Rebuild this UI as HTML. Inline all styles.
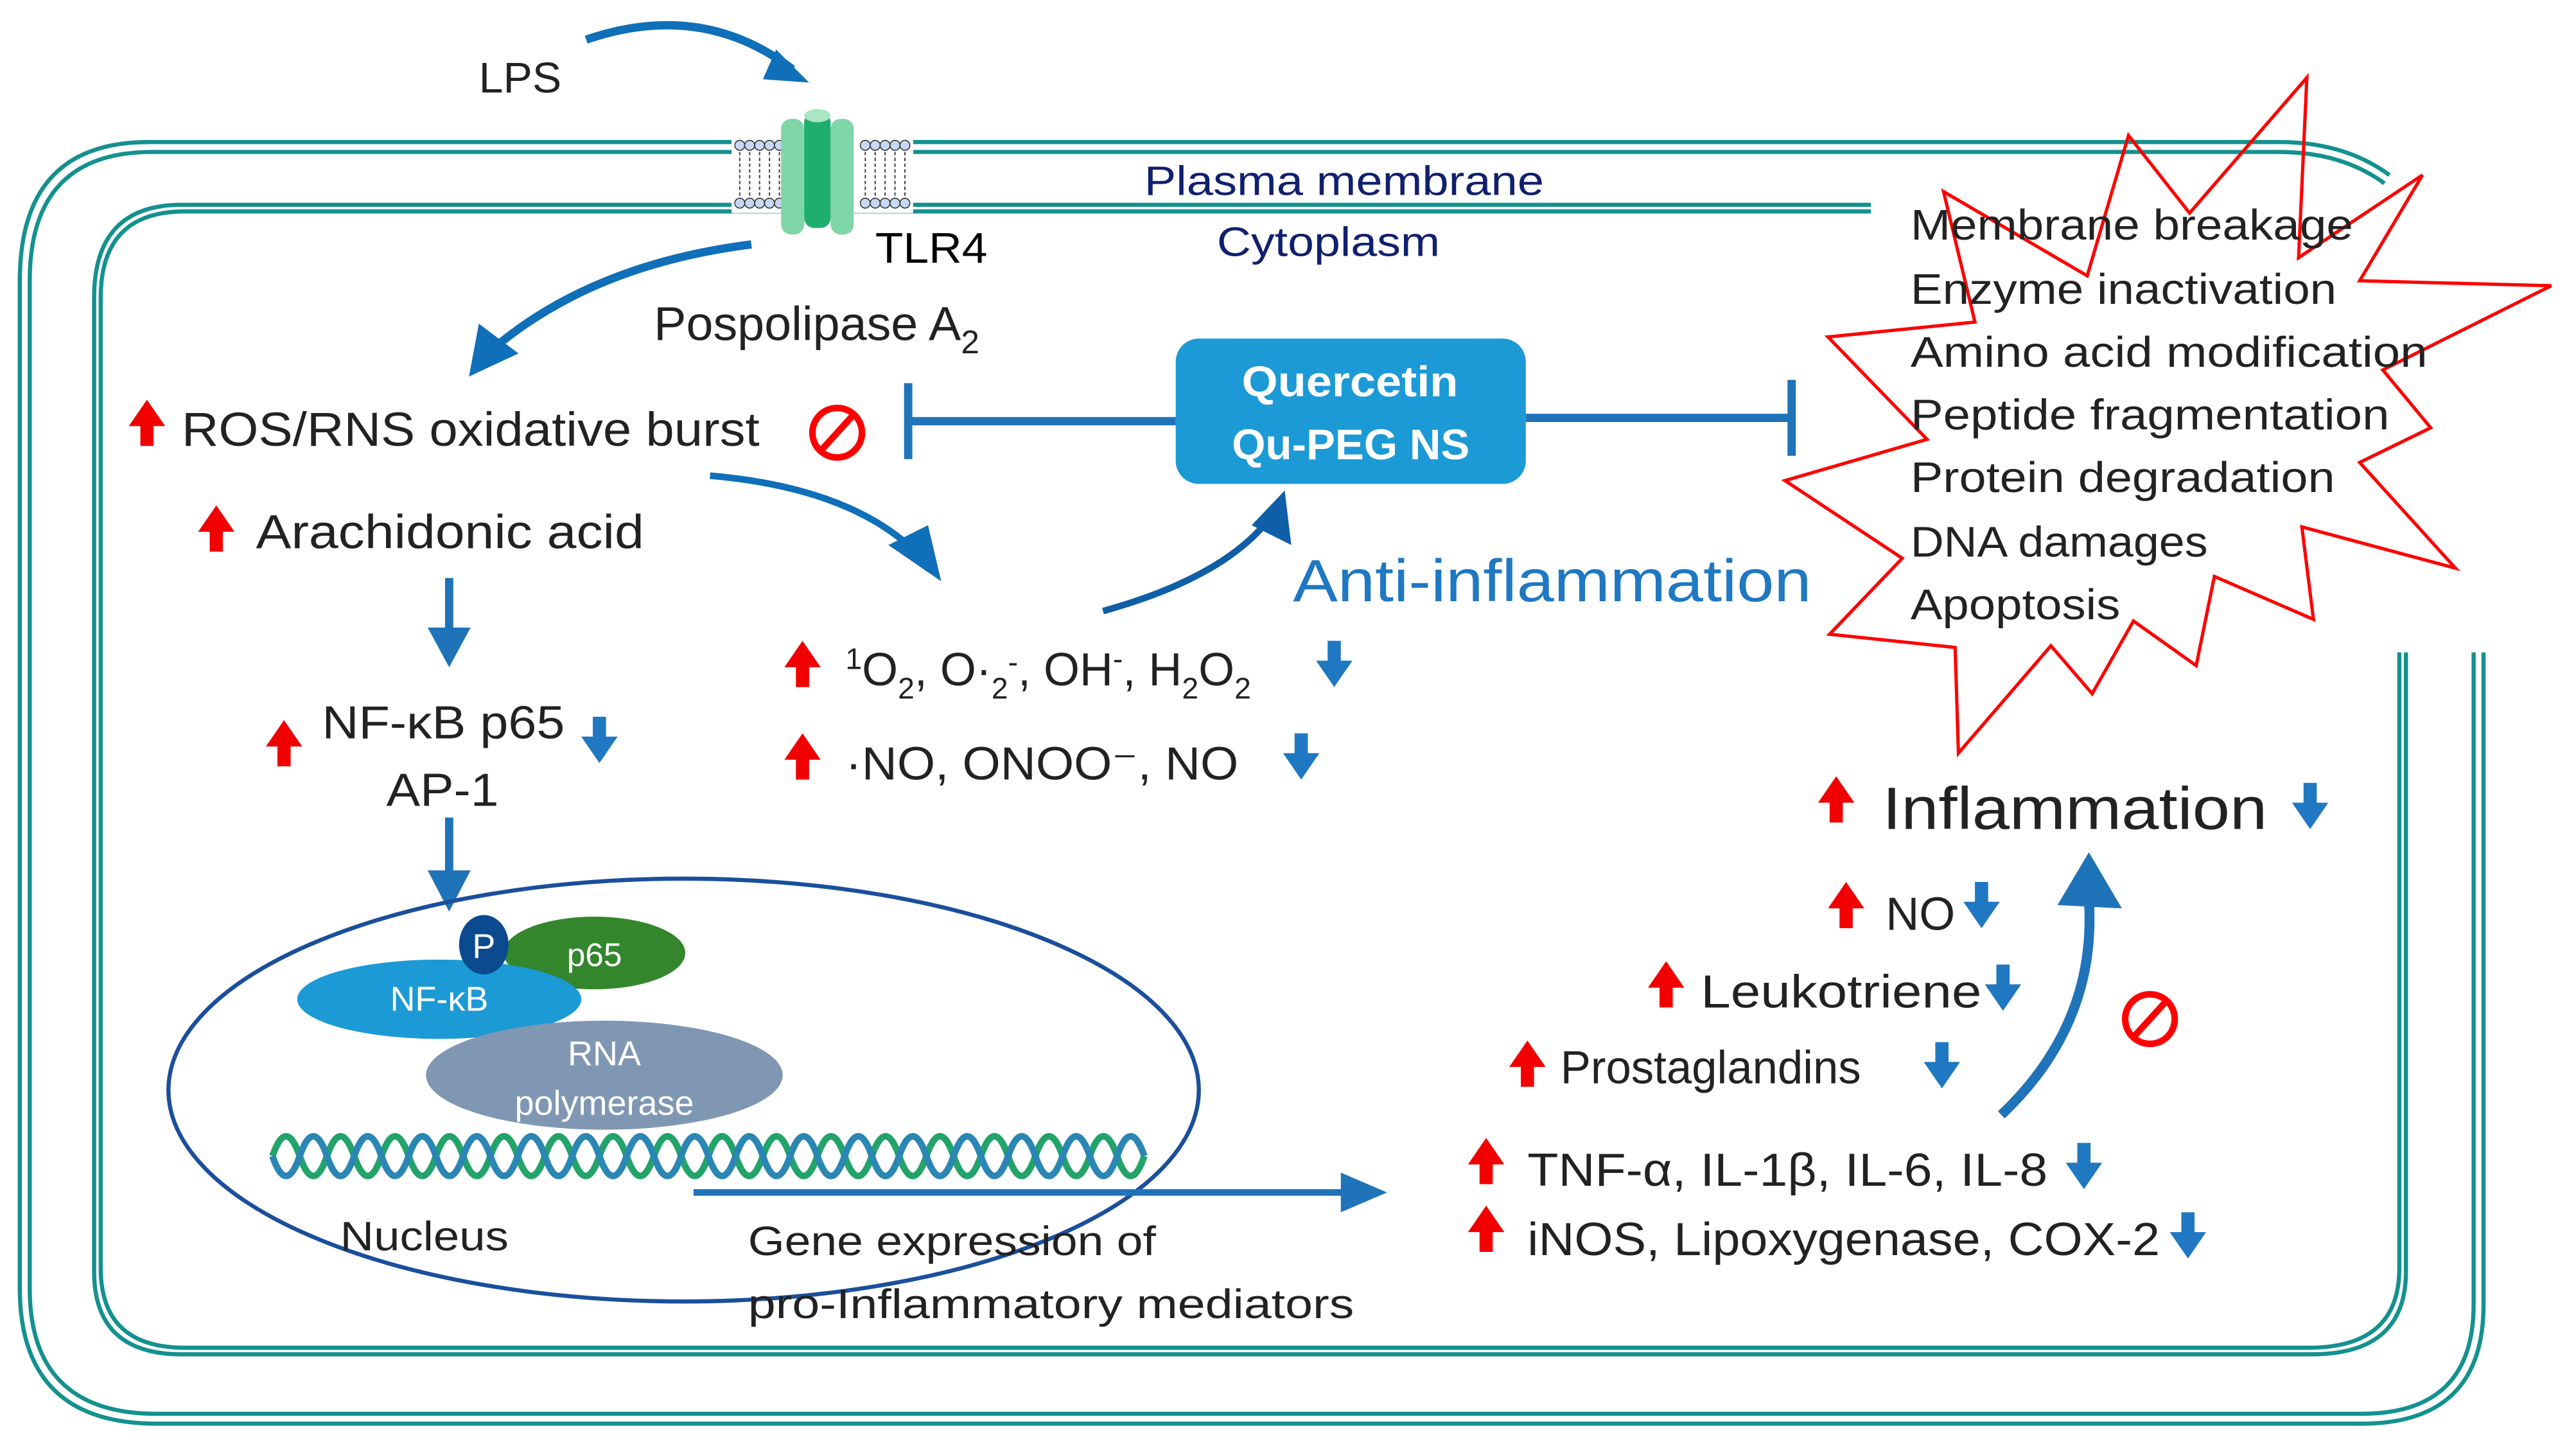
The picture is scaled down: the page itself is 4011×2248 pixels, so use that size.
<!DOCTYPE html>
<html><head><meta charset="utf-8"><style>
html,body{margin:0;padding:0;background:#fff}
svg{display:block}
text{font-family:"Liberation Sans",sans-serif}
</style></head><body>
<svg width="4011" height="2248" viewBox="0 0 1560 874.3" preserveAspectRatio="none" xmlns="http://www.w3.org/2000/svg">
<defs>
<g id="up"><polygon points="0,-14 11,2 4,2 4,14 -4,14 -4,2 -11,2" fill="#f20000"/></g>
<g id="dn"><polygon points="0,14 11,-2 4,-2 4,-14 -4,-14 -4,-2 -11,-2" fill="#1f78c1"/></g>
</defs>
<!-- cell membranes -->
<g fill="none" stroke="#13918f" stroke-width="2.5">
<path d="M1447,106 Q1420,86 1380,86 L90,86 Q12,86 12,170 L12,780 Q12,862 95,862 L1430,862 Q1504,862 1504,790 L1504,395"/>
<path d="M1444,111 Q1418,92 1380,92 L92,92 Q18,92 18,170 L18,780 Q18,856 95,856 L1430,856 Q1498,856 1498,790 L1498,395"/>
<path d="M1133,124 L110,124 Q57,124 57,180 L57,770 Q57,820 110,820 L1400,820 Q1457,820 1457,770 L1457,395"/>
<path d="M1133,128 L112,128 Q61,128 61,180 L61,768 Q61,816 112,816 L1398,816 Q1453,816 1453,768 L1453,395"/>
</g>
<!-- lipid bilayer -->
<rect x="443" y="83" width="110" height="46" fill="#fff"/>
<g fill="#c7d8f2" stroke="#333" stroke-width="0.6">
<circle cx="448" cy="88" r="3"/><circle cx="454" cy="88" r="3"/><circle cx="460" cy="88" r="3"/><circle cx="466" cy="88" r="3"/><circle cx="472" cy="88" r="3"/>
<circle cx="448" cy="123" r="3"/><circle cx="454" cy="123" r="3"/><circle cx="460" cy="123" r="3"/><circle cx="466" cy="123" r="3"/><circle cx="472" cy="123" r="3"/>
<circle cx="524" cy="88" r="3"/><circle cx="530" cy="88" r="3"/><circle cx="536" cy="88" r="3"/><circle cx="542" cy="88" r="3"/><circle cx="548" cy="88" r="3"/>
<circle cx="524" cy="123" r="3"/><circle cx="530" cy="123" r="3"/><circle cx="536" cy="123" r="3"/><circle cx="542" cy="123" r="3"/><circle cx="548" cy="123" r="3"/>
</g>
<g stroke="#444" stroke-width="0.8" stroke-dasharray="2,1.5">
<path d="M448,92V119M454,92V119M460,92V119M466,92V119M472,92V119M524,92V119M530,92V119M536,92V119M542,92V119M548,92V119"/>
</g>
<!-- TLR4 -->
<rect x="473" y="72" width="14" height="70" rx="6" fill="#7fd6a8"/>
<rect x="503" y="72" width="14" height="70" rx="6" fill="#7fd6a8"/>
<rect x="487" y="68" width="16" height="70" rx="6" fill="#1fae6f"/>
<ellipse cx="495" cy="70" rx="8" ry="4" fill="#a9e6c4"/>
<text x="530" y="159" font-size="26" fill="#000" textLength="68" lengthAdjust="spacingAndGlyphs">TLR4</text>
<text x="693" y="118" font-size="25" fill="#10206e" textLength="242" lengthAdjust="spacingAndGlyphs">Plasma membrane</text>
<text x="737" y="155" font-size="25" fill="#10206e" textLength="135" lengthAdjust="spacingAndGlyphs">Cytoplasm</text>
<text x="290" y="56" font-size="26" fill="#222" textLength="50" lengthAdjust="spacingAndGlyphs">LPS</text>
<path d="M355,24 Q425,0 480,42" fill="none" stroke="#0f6fb8" stroke-width="5"/>
<polygon points="470,30 490,50 462,48" fill="#0f6fb8"/>
<path d="M455,148 Q360,160 300,210" fill="none" stroke="#0f6fb8" stroke-width="5"/>
<polygon points="284,228 290,196 314,214" fill="#0f6fb8"/>
<text x="396" y="206" font-size="29" fill="#222"><tspan textLength="186" lengthAdjust="spacingAndGlyphs">Pospolipase A</tspan><tspan font-size="20" dy="8">2</tspan></text>
<use href="#up" x="89" y="256"/>
<text x="110" y="270" font-size="29" fill="#222" textLength="350" lengthAdjust="spacingAndGlyphs">ROS/RNS oxidative burst</text>
<circle cx="507" cy="262" r="15" fill="none" stroke="#f00" stroke-width="4"/><line x1="497" y1="273" x2="517" y2="251" stroke="#f00" stroke-width="4"/>
<use href="#up" x="131" y="320"/>
<text x="155" y="332" font-size="29" fill="#222" textLength="235" lengthAdjust="spacingAndGlyphs">Arachidonic acid</text>
<path d="M430,288 Q510,295 550,330" fill="none" stroke="#0f6fb8" stroke-width="4"/>
<polygon points="570,352 538,330 562,318" fill="#0f6fb8"/>
<!-- Quercetin -->
<line x1="550" y1="255" x2="712" y2="255" stroke="#1f73b8" stroke-width="5"/>
<line x1="550" y1="232" x2="550" y2="278" stroke="#1f73b8" stroke-width="5"/>
<line x1="924" y1="253" x2="1085" y2="253" stroke="#1f73b8" stroke-width="5"/>
<line x1="1085" y1="230" x2="1085" y2="276" stroke="#1f73b8" stroke-width="5"/>
<rect x="712" y="205" width="212" height="88" rx="14" fill="#1b9ad6"/>
<text x="752" y="240" font-size="26" font-weight="bold" fill="#fff" textLength="131" lengthAdjust="spacingAndGlyphs">Quercetin</text>
<text x="746" y="278" font-size="26" font-weight="bold" fill="#fff" textLength="144" lengthAdjust="spacingAndGlyphs">Qu-PEG NS</text>
<path d="M668,370 Q740,350 768,315" fill="none" stroke="#0f5ea8" stroke-width="4"/>
<polygon points="778,297 782,330 758,318" fill="#0f5ea8"/>
<text x="783" y="364" font-size="36" fill="#1f78c1" textLength="314" lengthAdjust="spacingAndGlyphs">Anti-inflammation</text>
<!-- ROS species -->
<use href="#up" x="486" y="402"/>
<text x="512" y="415" font-size="28" fill="#222"><tspan font-size="18" dy="-10">1</tspan><tspan dy="10">O</tspan><tspan font-size="18" dy="8">2</tspan><tspan dy="-8">, O·</tspan><tspan font-size="18" dy="8">2</tspan><tspan font-size="18" dy="-16">-</tspan><tspan dy="8">, OH</tspan><tspan font-size="18" dy="-10">-</tspan><tspan dy="10">, H</tspan><tspan font-size="18" dy="8">2</tspan><tspan dy="-8">O</tspan><tspan font-size="18" dy="8">2</tspan></text>
<use href="#dn" x="808" y="402"/>
<use href="#up" x="486" y="458"/>
<text x="512" y="472" font-size="28" fill="#222" textLength="238" lengthAdjust="spacingAndGlyphs">·NO, ONOO⁻, NO</text>
<use href="#dn" x="788" y="458"/>
<!-- NF-kB -->
<line x1="272" y1="350" x2="272" y2="385" stroke="#1f73b8" stroke-width="5"/>
<polygon points="259,380 285,380 272,404" fill="#1f73b8"/>
<use href="#up" x="172" y="450"/>
<text x="195" y="447" font-size="28" fill="#222" textLength="147" lengthAdjust="spacingAndGlyphs">NF-κB p65</text>
<use href="#dn" x="363" y="448"/>
<text x="234" y="488" font-size="28" fill="#222" textLength="68" lengthAdjust="spacingAndGlyphs">AP-1</text>
<line x1="272" y1="495" x2="272" y2="530" stroke="#1f73b8" stroke-width="5"/>
<polygon points="259,527 285,527 272,552" fill="#1f73b8"/>
<!-- nucleus -->
<ellipse cx="414" cy="660" rx="312" ry="128" fill="none" stroke="#1b4f9c" stroke-width="2.5"/>
<ellipse cx="360" cy="577" rx="55" ry="22" fill="#33862c"/>
<text x="360" y="585" font-size="20" fill="#fff" text-anchor="middle">p65</text>
<ellipse cx="266" cy="605" rx="86" ry="24" fill="#1b9ad6"/>
<text x="266" y="612" font-size="21" fill="#fff" text-anchor="middle">NF-κB</text>
<ellipse cx="293" cy="572" rx="15" ry="18" fill="#0b4a8e"/>
<text x="293" y="580" font-size="21" fill="#fff" text-anchor="middle">P</text>
<ellipse cx="366" cy="651" rx="108" ry="33" fill="#7f97b2"/>
<text x="366" y="645" font-size="21" fill="#fff" text-anchor="middle">RNA</text>
<text x="366" y="675" font-size="21" fill="#fff" text-anchor="middle">polymerase</text>
<g fill="none" stroke-width="4">
<path d="M165,700 q8.25,-24 16.5,0 t16.5,0 t16.5,0 t16.5,0 t16.5,0 t16.5,0 t16.5,0 t16.5,0 t16.5,0 t16.5,0 t16.5,0 t16.5,0 t16.5,0 t16.5,0 t16.5,0 t16.5,0 t16.5,0 t16.5,0 t16.5,0 t16.5,0 t16.5,0 t16.5,0 t16.5,0 t16.5,0 t16.5,0 t16.5,0 t16.5,0 t16.5,0 t16.5,0 t16.5,0 t16.5,0 t16.5,0" stroke="#22a36a"/>
<path d="M165,700 q8.25,24 16.5,0 t16.5,0 t16.5,0 t16.5,0 t16.5,0 t16.5,0 t16.5,0 t16.5,0 t16.5,0 t16.5,0 t16.5,0 t16.5,0 t16.5,0 t16.5,0 t16.5,0 t16.5,0 t16.5,0 t16.5,0 t16.5,0 t16.5,0 t16.5,0 t16.5,0 t16.5,0 t16.5,0 t16.5,0 t16.5,0 t16.5,0 t16.5,0 t16.5,0 t16.5,0 t16.5,0 t16.5,0" stroke="#2a86b4"/>
</g>
<text x="206" y="757" font-size="25" fill="#222" textLength="102" lengthAdjust="spacingAndGlyphs">Nucleus</text>
<line x1="420" y1="722" x2="815" y2="722" stroke="#1f73b8" stroke-width="4"/>
<polygon points="812,710 840,722 812,734" fill="#1f73b8"/>
<text x="453" y="760" font-size="25" fill="#222" textLength="247" lengthAdjust="spacingAndGlyphs">Gene expression of</text>
<text x="453" y="798" font-size="25" fill="#222" textLength="367" lengthAdjust="spacingAndGlyphs">pro-Inflammatory mediators</text>
<!-- star -->
<polygon fill="none" stroke="#f00" stroke-width="2" points="1177,116 1264,167 1289,82 1326,129 1397,47 1392,156 1467,106 1429,170 1545,173 1443,224 1472,259 1429,280 1487,344 1394,319 1401,375 1341,349 1330,403 1292,376 1267,420 1242,391 1186,456 1184,392 1108,384 1152,338 1081,291 1167,266 1107,204 1196,195"/>
<g font-size="26" fill="#222">
<text x="1157" y="145" textLength="268" lengthAdjust="spacingAndGlyphs">Membrane breakage</text>
<text x="1157" y="184" textLength="258" lengthAdjust="spacingAndGlyphs">Enzyme inactivation</text>
<text x="1157" y="222" textLength="313" lengthAdjust="spacingAndGlyphs">Amino acid modification</text>
<text x="1157" y="260" textLength="290" lengthAdjust="spacingAndGlyphs">Peptide fragmentation</text>
<text x="1157" y="298" textLength="257" lengthAdjust="spacingAndGlyphs">Protein degradation</text>
<text x="1157" y="337" textLength="180" lengthAdjust="spacingAndGlyphs">DNA damages</text>
<text x="1157" y="375" textLength="127" lengthAdjust="spacingAndGlyphs">Apoptosis</text>
</g>
<!-- inflammation -->
<use href="#up" x="1112" y="484"/>
<text x="1140" y="502" font-size="36" fill="#222" textLength="233" lengthAdjust="spacingAndGlyphs">Inflammation</text>
<use href="#dn" x="1399" y="488"/>
<use href="#up" x="1118" y="548"/>
<text x="1142" y="563" font-size="28" fill="#222">NO</text>
<use href="#dn" x="1200" y="548"/>
<use href="#up" x="1009" y="596"/>
<text x="1030" y="610" font-size="28" fill="#222" textLength="170" lengthAdjust="spacingAndGlyphs">Leukotriene</text>
<use href="#dn" x="1213" y="598"/>
<use href="#up" x="925" y="644"/>
<text x="945" y="656" font-size="28" fill="#222" textLength="182" lengthAdjust="spacingAndGlyphs">Prostaglandins</text>
<use href="#dn" x="1176" y="645"/>
<use href="#up" x="900" y="703"/>
<text x="925" y="718" font-size="28" fill="#222" textLength="315" lengthAdjust="spacingAndGlyphs">TNF-α, IL-1β, IL-6, IL-8</text>
<use href="#dn" x="1262" y="706"/>
<use href="#up" x="900" y="744"/>
<text x="925" y="760" font-size="28" fill="#222" textLength="383" lengthAdjust="spacingAndGlyphs">iNOS, Lipoxygenase, COX-2</text>
<use href="#dn" x="1325" y="748"/>
<path d="M1212,675 Q1270,620 1265,545" fill="none" stroke="#1f73b8" stroke-width="6"/>
<polygon points="1265,516 1285,550 1246,548" fill="#1f73b8"/>
<circle cx="1302" cy="617" r="15" fill="none" stroke="#f00" stroke-width="4"/><line x1="1292" y1="628" x2="1312" y2="606" stroke="#f00" stroke-width="4"/>
</svg>
</body></html>
